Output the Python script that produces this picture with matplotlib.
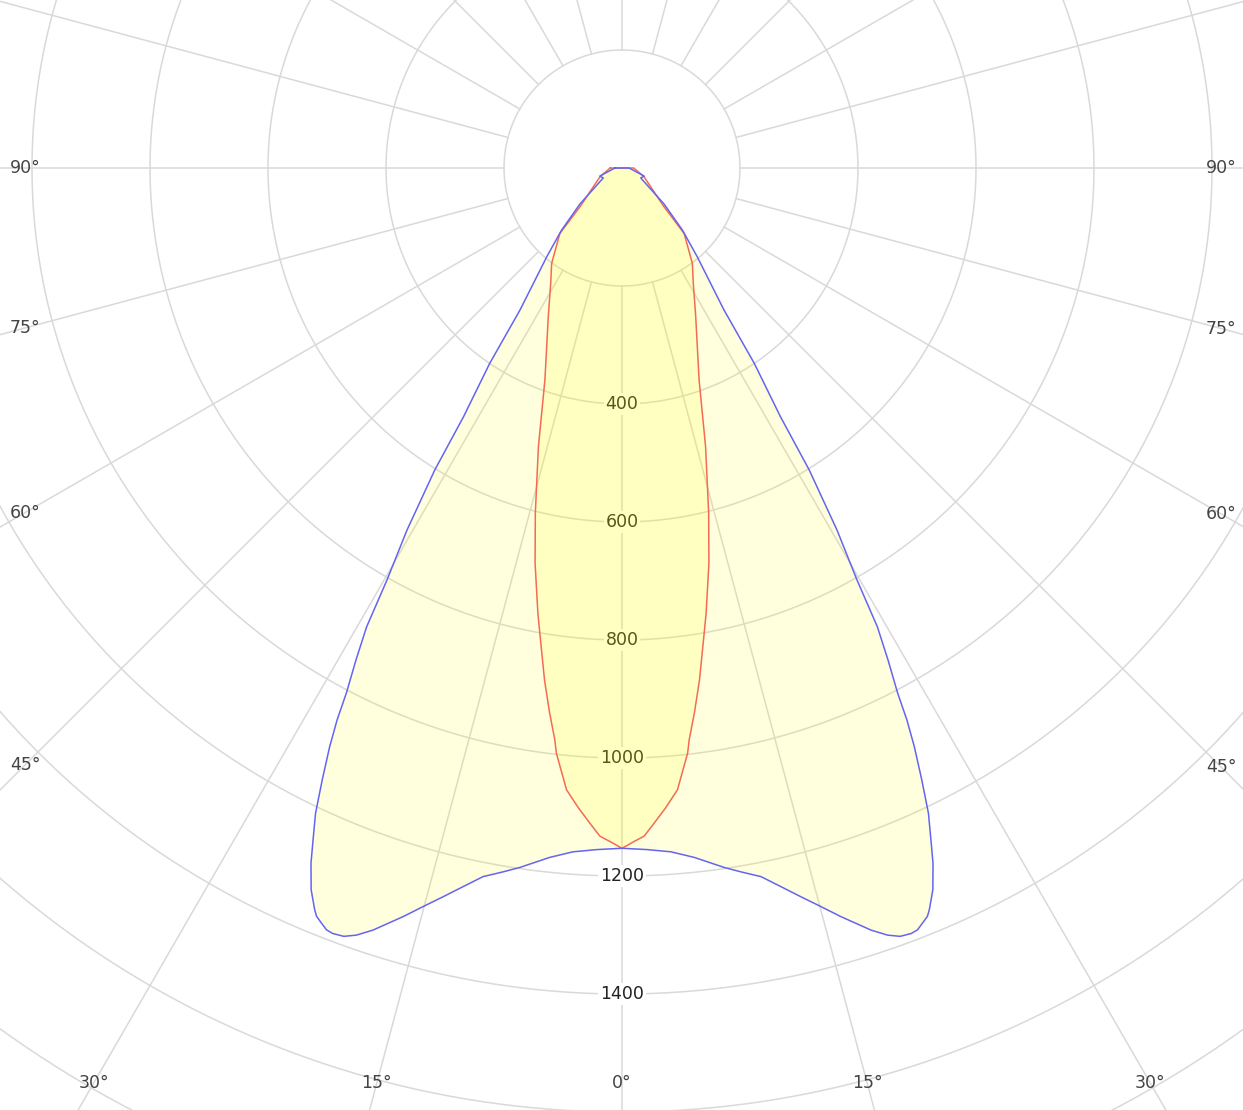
import numpy as np
import matplotlib
matplotlib.use("Agg")
import matplotlib.pyplot as plt

# ---- data (half profiles, symmetric; angle from nadir in degrees, intensity in cd) ----
blue_angles = [0, 2.1, 4.1, 6.0, 8.3, 9.6, 11.1, 12.5, 13.8, 15.1, 16.3, 18.1, 19.1,
               19.9, 20.7, 21.2, 21.8, 22.2, 22.5, 23.3, 24.1, 24.7, 25.4, 26.1, 26.8,
               27.3, 27.7, 28.4, 29.1, 29.7, 30.7, 31.8, 32.5, 34.1, 35.7, 40.3, 44.2,
               49.4, 62, 70, 90]
blue_cd = [1153, 1156, 1162, 1175, 1198, 1210, 1224, 1248, 1272, 1297, 1322, 1359, 1376,
           1385, 1387, 1385, 1376, 1370, 1361, 1332, 1291, 1253, 1211, 1155, 1099,
           1053, 1005, 948, 890, 804, 714, 602, 500, 400, 296, 197, 147,
           94, 36, 40, 12]

red_angles = [0, 1.0, 1.9, 2.8, 3.9, 5.1, 6.4, 6.7, 7.6, 8.6, 9.6, 10.7, 12.4, 14.1,
              16.7, 20.0, 26.4, 31.7, 36.4, 43.5, 47.3, 68.4, 90]
red_cd = [1153, 1142, 1133, 1112, 1087, 1058, 998, 976, 930, 878, 822, 768, 686, 603,
          493, 382, 281, 230, 201, 153, 97, 40, 20]

ring_values = [200, 400, 600, 800, 1000, 1200, 1400, 1600, 1800, 2000]
ring_labels = [400, 600, 800, 1000, 1200, 1400]
spoke_angles = list(range(0, 360, 15))
angle_labels_left = [90, 75, 60, 45, 30, 15]
angle_labels_right = [15, 30, 45, 60, 75, 90]

# ---- figure geometry (pixels) ----
W, H = 1243, 1110
CX, CY = 622, 168          # pixel position of the pole (from top-left)
S = 0.590                  # pixels per cd
RMAX = 2000

fig = plt.figure(figsize=(W / 100, H / 100), dpi=100)
R = RMAX * S
ax = fig.add_axes([(CX - R) / W, (H - CY - R) / H, 2 * R / W, 2 * R / H], projection="polar")
ax.set_theta_zero_location("S")
ax.set_theta_direction(1)
ax.set_ylim(0, RMAX)
ax.grid(False)
ax.set_xticks([])
ax.set_yticks([])
ax.spines["polar"].set_visible(False)
ax.patch.set_visible(False)

grid_col = "#d9d9d9"
tt = np.linspace(0, 2 * np.pi, 721)
for rv in ring_values:
    ax.plot(tt, np.full_like(tt, rv), color=grid_col, lw=1.1, zorder=1)
for a in spoke_angles:
    ax.plot([np.radians(a)] * 2, [200, RMAX], color=grid_col, lw=1.1, zorder=1)

for v in ring_labels:
    ax.text(0, v, str(v), ha="center", va="center", fontsize=12.5, color="#222222",
            zorder=2, bbox=dict(boxstyle="square,pad=0.1", fc="white", ec="none"))

# angle labels where each spoke meets the label rectangle
LXP, RXP, BYP = 25, 1221, 1083


def border_px(a_deg, side):
    ar = np.radians(a_deg)
    sx, cy = np.sin(ar), np.cos(ar)
    lim = (CX - LXP) if side < 0 else (RXP - CX)
    cand = []
    if sx > 1e-9:
        cand.append(lim / sx)
    if cy > 1e-9:
        cand.append((BYP - CY) / cy)
    d = min(cand)
    return CX + side * d * sx, CY + d * cy


def put_angle(a, side):
    px, py = border_px(a, side)
    fig.text(px / W, 1 - py / H, f"{a}°", ha="center", va="center", fontsize=12.5,
             color="#444444", zorder=2)


for a in angle_labels_left:
    put_angle(a, -1)
for a in angle_labels_right:
    put_angle(a, 1)
put_angle(0, 1)


def profile(angles, cds):
    ang = np.radians(np.array(angles, dtype=float))
    cd = np.array(cds, dtype=float)
    th = np.concatenate([-ang[::-1], ang[1:]])
    rr = np.concatenate([cd[::-1], cd[1:]])
    # close the outline straight through the pole
    th = np.concatenate([th, [th[-1], th[0], th[0]]])
    rr = np.concatenate([rr, [0, 0, rr[0]]])
    return th, rr


bt, br = profile(blue_angles, blue_cd)
rt, rr_ = profile(red_angles, red_cd)

ax.fill(bt, br, color=(1.0, 1.0, 0.0), alpha=0.13, lw=0, zorder=3)
ax.fill(rt, rr_, color=(1.0, 1.0, 0.0), alpha=0.13, lw=0, zorder=3)
ax.plot(rt, rr_, color="#f46a55", lw=1.1, zorder=4, solid_joinstyle="round")
ax.plot(bt, br, color="#6464f2", lw=1.1, zorder=5, solid_joinstyle="round")

fig.savefig("out.png", dpi=100)
